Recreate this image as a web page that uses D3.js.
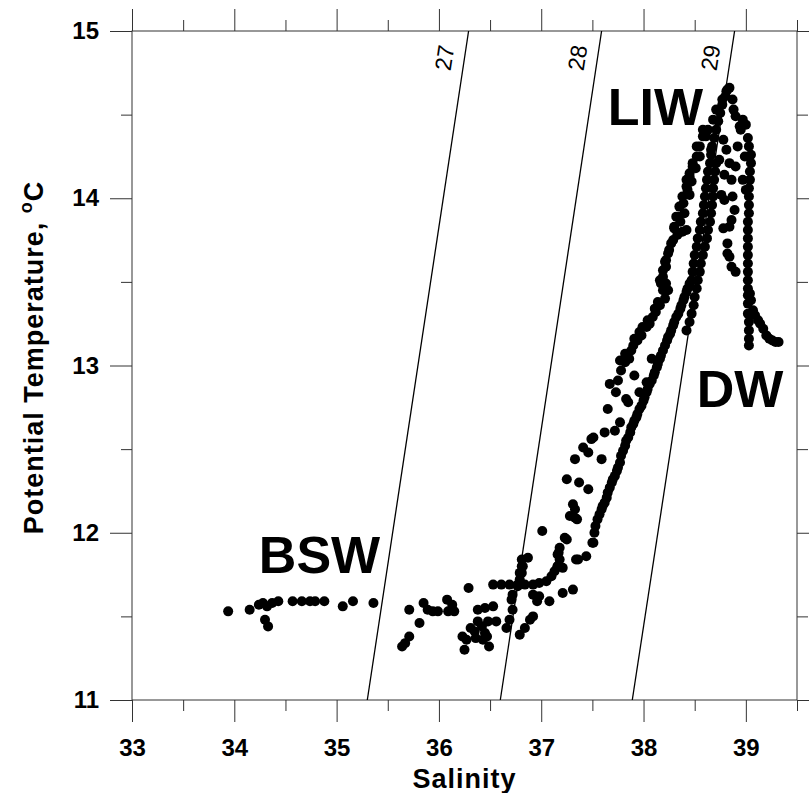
<!DOCTYPE html>
<html>
  <head>
    <meta charset="utf-8">
    <title>Potential Temperature vs Salinity</title>
    <script src="https://d3js.org/d3.v7.min.js"></script>
    <style>
      body { margin: 0; background: #fff; }
      svg { display: block; font-family: "Liberation Sans", Arial, sans-serif; }
    </style>
  </head>
  <body>
<svg width="809" height="793"></svg>
<script>
// axis ticks
var salinityTicks = [33, 34, 35, 36, 37, 38, 39];
var salinityMinor = [33.5, 34.5, 35.5, 36.5, 37.5, 38.5, 39.5];
var tempTicks = [11, 12, 13, 14, 15];
var tempMinor = [11.5, 12.5, 13.5, 14.5];

// sigma-theta isopycnals: salinity where each crosses 11 and 15 degC
var isoLabels = ["27", "28", "29"];
var isoSalinityAt11 = [35.30, 36.60, 37.89];
var isoSalinityAt15 = [36.29, 37.59, 38.89];

var waterMasses = ["BSW", "LIW", "DW"];

// [salinity, potential temperature]
var bswPoints = [[33.94,11.53],[34.15,11.54],[34.24,11.57],[34.28,11.58],[34.32,11.56],[34.37,11.58],[34.43,11.59],
  [34.30,11.48],[34.33,11.44],[34.57,11.59],[34.66,11.59],[34.74,11.59],[34.79,11.59],[34.88,11.59],
  [35.06,11.56],[35.16,11.59],[35.36,11.58]];

var shelfPoints = [[35.64,11.32],[35.67,11.34],[35.71,11.38],[35.71,11.54],[35.81,11.46],[35.85,11.58],[35.89,11.54],
  [35.94,11.53],[35.99,11.53],[36.08,11.60],[36.09,11.53],[36.15,11.53],[36.13,11.57],[36.29,11.67],
  [36.38,11.54],[36.45,11.55],[36.53,11.56],[36.38,11.47],[36.48,11.47],[36.56,11.47],[36.31,11.43],
  [36.35,11.41],[36.42,11.44],[36.45,11.40],[36.23,11.38],[36.27,11.36],[36.36,11.37],[36.43,11.36],
  [36.47,11.38],[36.25,11.30],[36.49,11.32]];

var transitionPoints = [[36.53,11.69],[36.61,11.69],[36.69,11.69],[36.77,11.69],[36.84,11.69],[36.92,11.69],[36.98,11.70],
  [37.05,11.71],[37.10,11.74],[37.13,11.77],[37.16,11.80],[36.81,11.84],[36.81,11.80],[36.81,11.76],
  [36.79,11.72],[36.77,11.68],[36.87,11.85],[36.82,11.80],[36.79,11.76],[37.16,11.87],[37.18,11.91],
  [37.36,11.84],[37.44,11.86],[37.50,11.94],[37.31,11.66],[37.21,11.64],[36.72,11.63],[36.71,11.60],
  [36.72,11.54],[36.69,11.48],[36.66,11.43],[36.92,11.63],[36.98,11.62],[37.08,11.59],[36.96,11.59],
  [36.92,11.50],[36.89,11.48],[36.84,11.43],[36.79,11.39],[37.01,12.01],[37.23,11.97],[37.17,11.88],
  [37.18,11.84],[37.16,11.80],[37.21,11.79],[37.25,11.96],[37.34,11.84]];

var risePoints = [[37.31,12.17],[37.33,12.09],[37.35,12.08],[37.28,12.10],[37.33,12.14],[37.25,12.32],[37.37,12.30],
  [37.46,12.26],[37.33,12.44],[37.59,12.44],[37.41,12.51],[37.46,12.48],[37.51,12.57],[37.49,12.56],
  [37.62,12.60],[37.65,12.74],[37.67,12.89],[37.73,12.84],[37.72,12.61],[37.77,12.66],[37.83,12.80],
  [37.85,12.78],[37.91,12.94],[37.96,12.84],[38.03,12.90],[37.75,12.91],[37.78,12.97],[37.77,13.03],
  [37.82,13.02],[37.82,13.07],[37.86,13.04],[37.90,13.12],[37.91,13.16],[37.94,13.15],[37.98,13.18],
  [37.99,13.23],[38.03,13.23],[38.06,13.25],[38.08,13.04],[38.09,13.29],[38.12,13.32],[38.16,13.36],
  [38.21,13.40],[38.19,13.45],[38.24,13.45],[38.22,13.49],[37.88,13.09],[37.96,13.20],[38.04,13.27],
  [38.11,13.34],[38.14,13.38]];

var liwLeftPoints = [[38.16,13.51],[38.17,13.49],[38.19,13.53],[38.19,13.57],[38.22,13.59],[38.21,13.62],[38.22,13.63],
  [38.24,13.67],[38.25,13.69],[38.27,13.73],[38.29,13.75],[38.30,13.82],[38.30,13.83],[38.32,13.89],
  [38.34,13.89],[38.35,13.95],[38.38,13.80],[38.42,13.81],[38.40,13.91],[38.38,14.01],[38.43,14.05],
  [38.42,14.07],[38.42,14.11],[38.45,14.13],[38.45,14.15],[38.48,14.19],[38.48,14.21],[38.52,14.25],
  [38.55,14.25],[38.52,14.31],[38.55,14.31],[38.58,14.37],[38.61,14.37],[38.58,14.41],[38.63,14.41],
  [38.68,14.47],[38.71,14.53],[38.77,14.59],[38.81,14.64],[38.33,13.78],[38.36,13.86],[38.39,13.97],
  [38.45,14.02],[38.47,14.10],[38.51,14.18]];

var mainTracePoints = [[37.51,11.94],[37.52,12.00],[37.55,12.08],[37.59,12.14],[37.62,12.18],[37.65,12.24],[37.69,12.30],
  [37.72,12.34],[37.75,12.39],[37.78,12.46],[37.82,12.52],[37.85,12.57],[37.88,12.63],[37.91,12.67],
  [37.94,12.71],[37.98,12.76],[38.01,12.81],[38.04,12.86],[38.08,12.91],[38.11,12.96],[38.14,13.01],
  [38.17,13.06],[38.21,13.12],[38.24,13.17],[38.27,13.21],[38.30,13.26],[38.34,13.31],[38.37,13.36],
  [38.40,13.41],[38.43,13.46],[38.47,13.51],[38.48,13.56],[38.49,13.61],[38.50,13.66],[38.52,13.71],
  [38.53,13.76],[38.55,13.81],[38.56,13.86],[38.58,13.91],[38.59,13.96],[38.60,14.01],[38.61,14.06],
  [38.62,14.11],[38.63,14.16],[38.65,14.21],[38.66,14.26],[38.67,14.31],[38.69,14.36],[38.71,14.41],
  [38.73,14.46],[38.75,14.51],[38.77,14.56],[38.80,14.61],[38.82,14.65],[38.84,14.66],
  [37.53,12.04],[37.57,12.11],[37.60,12.16],[37.64,12.21],[37.67,12.27],[37.70,12.32],[37.74,12.37],
  [37.77,12.42],[37.80,12.49],[37.83,12.55],[37.87,12.60],[37.90,12.65],[37.93,12.69],[37.96,12.74],
  [38.00,12.79],[38.03,12.84],[38.06,12.89],[38.10,12.94],[38.13,12.99],[38.16,13.04],[38.19,13.09],
  [38.23,13.15],[38.26,13.19],[38.29,13.24],[38.32,13.29],[38.36,13.34],[38.39,13.39],[38.42,13.44],
  [38.45,13.49]];

var middleTracePoints = [[38.71,14.21],[38.70,14.16],[38.69,14.11],[38.68,14.06],[38.68,14.01],[38.67,13.96],[38.66,13.91],
  [38.65,13.86],[38.63,13.81],[38.62,13.76],[38.60,13.71],[38.58,13.66],[38.56,13.61],[38.55,13.56],
  [38.53,13.51],[38.52,13.46],[38.50,13.41],[38.49,13.36],[38.47,13.31],[38.45,13.26],[38.42,13.21]];

var liwRightPoints = [[38.87,14.59],[38.88,14.53],[38.90,14.49],[38.94,14.43],[38.97,14.47],[39.00,14.44],[39.02,14.36],
  [39.03,14.31],[39.05,14.26],[39.05,14.21],[39.04,14.16],[39.04,14.11],[39.03,14.06],[39.03,14.01],
  [39.03,13.96],[39.03,13.91],[39.02,13.86],[39.02,13.81],[39.02,13.76],[39.02,13.71],[39.02,13.66],
  [39.02,13.61],[39.02,13.56],[39.02,13.51],[39.02,13.46],[39.02,13.42],[39.02,13.37],[39.02,13.31],
  [39.03,13.26],[39.03,13.21],[39.03,13.16],[39.03,13.12],
  [38.78,14.35],[38.81,14.29],[38.84,14.21],[38.86,14.11],[38.87,14.01],[38.89,13.93],[38.86,13.87],
  [38.84,13.83],[38.82,13.73],[38.84,13.65],[38.86,13.59],[38.90,13.56],[38.78,13.82],[38.82,13.67],
  [38.90,14.19],[38.92,14.31],[38.95,14.41],[38.99,14.25],[38.97,14.11],[39.00,14.05],
  [38.66,14.29],[38.74,14.23],[38.79,14.14],[38.76,14.02],[38.79,13.99]];

var dwTailPoints = [[39.04,13.43],[39.05,13.39],[39.07,13.33],[39.09,13.30],[39.12,13.27],[39.14,13.25],[39.17,13.22],
  [39.20,13.18],[39.23,13.16],[39.26,13.15],[39.29,13.14],[39.32,13.14]];

var allPoints = [].concat(bswPoints, shelfPoints, transitionPoints, risePoints, liwLeftPoints,
  mainTracePoints, middleTracePoints, liwRightPoints, dwTailPoints);

var svg = d3.select("svg");

var x = d3.scaleLinear().domain([33, 39.5]).range([132, 797]);
var y = d3.scaleLinear().domain([11, 15]).range([700, 31]);

function styleAxis(g) {
  g.select(".domain").remove();
  g.selectAll(".tick line").attr("stroke", "#333").attr("stroke-width", 1);
  g.selectAll(".tick text")
    .attr("fill", "#000")
    .attr("font-family", "Liberation Sans, Arial, sans-serif")
    .attr("font-size", 24)
    .attr("font-weight", "bold");
}

// bottom
svg.append("g").attr("transform", "translate(0," + y(11) + ")")
  .call(d3.axisBottom(x).tickValues(salinityTicks).tickSize(22).tickPadding(17).tickFormat(d3.format("d")))
  .call(styleAxis);
svg.append("g").attr("transform", "translate(0," + y(11) + ")")
  .call(d3.axisBottom(x).tickValues(salinityMinor).tickSize(11).tickFormat(""))
  .call(styleAxis);
// top
svg.append("g").attr("transform", "translate(0," + y(15) + ")")
  .call(d3.axisTop(x).tickValues(salinityTicks).tickSize(22).tickFormat(""))
  .call(styleAxis);
svg.append("g").attr("transform", "translate(0," + y(15) + ")")
  .call(d3.axisTop(x).tickValues(salinityMinor).tickSize(11).tickFormat(""))
  .call(styleAxis);
// left
svg.append("g").attr("transform", "translate(" + x(33) + ",0)")
  .call(d3.axisLeft(y).tickValues(tempTicks).tickSize(22).tickPadding(11).tickFormat(d3.format("d")))
  .call(styleAxis);
svg.append("g").attr("transform", "translate(" + x(33) + ",0)")
  .call(d3.axisLeft(y).tickValues(tempMinor).tickSize(11).tickFormat(""))
  .call(styleAxis);
// right
svg.append("g").attr("transform", "translate(" + x(39.5) + ",0)")
  .call(d3.axisRight(y).tickValues(tempTicks).tickSize(22).tickFormat(""))
  .call(styleAxis);
svg.append("g").attr("transform", "translate(" + x(39.5) + ",0)")
  .call(d3.axisRight(y).tickValues(tempMinor).tickSize(11).tickFormat(""))
  .call(styleAxis);

// frame
svg.append("rect")
  .attr("x", x(33)).attr("y", y(15))
  .attr("width", x(39.5) - x(33)).attr("height", y(11) - y(15))
  .attr("fill", "none").attr("stroke", "#333").attr("stroke-width", 1);

// isopycnals
var iso = isoLabels.map(function(l, i) {
  return { label: l, s11: isoSalinityAt11[i], s15: isoSalinityAt15[i] };
});
svg.append("g").selectAll("line").data(iso).enter().append("line")
  .attr("x1", function(d) { return x(d.s11); })
  .attr("y1", y(11))
  .attr("x2", function(d) { return x(d.s15); })
  .attr("y2", y(15))
  .attr("stroke", "#000").attr("stroke-width", 1.3);

svg.append("g").selectAll("text").data(iso).enter().append("text")
  .attr("transform", function(d) {
    var t = 14.84;
    var sx = x(d.s11 + (d.s15 - d.s11) * (t - 11) / 4) - 20;
    var ang = Math.atan2(y(15) - y(11), x(d.s15) - x(d.s11)) * 180 / Math.PI;
    return "translate(" + sx + "," + y(t) + ") rotate(" + ang + ")";
  })
  .attr("text-anchor", "middle")
  .attr("dominant-baseline", "central")
  .attr("font-size", 23)
  .text(function(d) { return d.label; });

// data
svg.append("g").selectAll("circle").data(allPoints).enter().append("circle")
  .attr("cx", function(d) { return x(d[0]); })
  .attr("cy", function(d) { return y(d[1]); })
  .attr("r", 5)
  .attr("fill", "#000");

// water mass labels
var massSpots = [[34.24, 11.76], [37.65, 14.44], [38.52, 12.75]];
svg.append("g").selectAll("text").data(waterMasses).enter().append("text")
  .attr("x", function(d, i) { return x(massSpots[i][0]); })
  .attr("y", function(d, i) { return y(massSpots[i][1]); })
  .attr("font-size", 52)
  .attr("font-weight", "bold")
  .text(function(d) { return d; });

// axis titles
svg.append("text")
  .attr("x", (x(33) + x(39.5)) / 2)
  .attr("y", 788)
  .attr("text-anchor", "middle")
  .attr("font-size", 27)
  .attr("font-weight", "bold")
  .attr("letter-spacing", 1)
  .text("Salinity");

var yt = svg.append("text")
  .attr("transform", "translate(43," + (y(13) - 8) + ") rotate(-90)")
  .attr("text-anchor", "middle")
  .attr("font-size", 27)
  .attr("font-weight", "bold")
  .attr("letter-spacing", 1);
yt.append("tspan").text("Potential Temperature, ");
yt.append("tspan").attr("font-size", 18).attr("dy", -11).text("o");
yt.append("tspan").attr("dy", 11).text("C");
</script>
  </body>
</html>
